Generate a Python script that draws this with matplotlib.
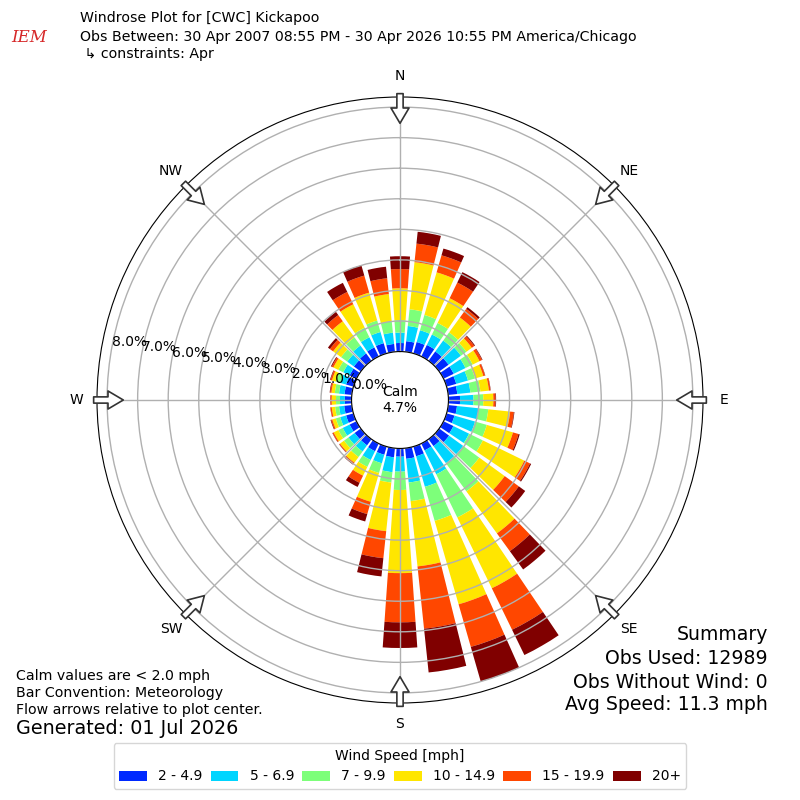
import numpy as np
import matplotlib
matplotlib.use('Agg')
import matplotlib.pyplot as plt

# ---------------- data ----------------
directions = list(range(0, 360, 10))
speed_labels = ['2 - 4.9', '5 - 6.9', '7 - 9.9', '10 - 14.9', '15 - 19.9', '20+']

spd_2_5 = [.28, .35, .39, .42, .38, .38, .37, .33, .30, .38,
           .29, .27, .36, .40, .28, .25, .33, .35, .27, .30,
           .28, .28, .25, .25, .25, .25, .25, .22, .24, .25,
           .25, .28, .30, .33, .35, .26]
spd_5_7 = [.34, .50, .40, .38, .44, .50, .43, .40, .43, .44,
           .71, .70, .57, .57, .69, .87, 1.04, .78, .49, .49,
           .29, .32, .25, .25, .25, .20, .17, .16, .18, .20,
           .23, .27, .32, .37, .38, .37]
spd_7_10 = [.41, .55, .52, .42, .33, .22, .26, .24, .33, .32,
            .32, .40, .50, .65, 1.14, 1.57, 1.16, .61, .60, .34,
            .33, .25, .22, .18, .16, .15, .13, .13, .14, .15,
            .18, .25, .33, .35, .39, .37]
spd_10_15 = [1.04, 1.55, 1.45, .90, .60, .22, .25, .28, .28, .33,
             .72, .89, 1.51, 1.03, 1.70, 2.58, 2.84, 2.15, 2.72, 1.60,
             .98, .32, .23, .16, .17, .12, .11, .14, .11, .13,
             .18, .32, .65, .85, .95, .90]
spd_15_20 = [.63, .61, .58, .57, .35, .10, .09, .06, .05, .07,
             .12, .19, .21, .57, .72, 1.51, 1.45, 2.05, 1.61, .89,
             .42, .26, .06, .03, .04, .04, .04, .04, .04, .05,
             .06, .13, .25, .45, .58, .52]
spd_20p = [.42, .39, .23, .38, .07, .03, .02, .01, .01, .02,
           .02, .04, .04, .26, .74, .92, 1.18, 1.44, .84, .60,
           .25, .15, .02, .01, .01, .02, .01, .01, .02, .02,
           .03, .08, .13, .33, .35, .38]
series = [spd_2_5, spd_5_7, spd_7_10, spd_10_15, spd_15_20, spd_20p]

calm_pct = 4.7
rticks = [0, 1, 2, 3, 4, 5, 6, 7, 8]
compass_angles = [0, 45, 90, 135, 180, 225, 270, 315]
compass_labels = ['N', 'NE', 'E', 'SE', 'S', 'SW', 'W', 'NW']

title_lines = ['Windrose Plot for [CWC] Kickapoo',
               'Obs Between: 30 Apr 2007 08:55 PM - 30 Apr 2026 10:55 PM America/Chicago',
               ' \u21b3 constraints: Apr']
notes = ['Calm values are < 2.0 mph', 'Bar Convention: Meteorology',
         'Flow arrows relative to plot center.']
generated = 'Generated: 01 Jul 2026'
summary = ['Summary', 'Obs Used: 12989', 'Obs Without Wind: 0', 'Avg Speed: 11.3 mph']

# ---------------- figure ----------------
fig = plt.figure(figsize=(8, 8), dpi=100)
ax = fig.add_axes([97 / 800, 97 / 800, 606 / 800, 606 / 800], projection='polar')
ax.set_theta_zero_location('N')
ax.set_theta_direction(-1)
ax.set_rorigin(-1.585)
ax.set_ylim(0, 8.33)

colors = plt.get_cmap('jet')(np.linspace(0, 1, 7))[1:]
theta = np.deg2rad(directions)
width = np.deg2rad(10) * 0.8
bottom = np.zeros(len(directions))
for vals, c, lab in zip(series, colors, speed_labels):
    vals = np.asarray(vals)
    ax.bar(theta, vals, width=width, bottom=bottom, color=c, label=lab,
           linewidth=0, zorder=1)
    bottom = bottom + vals

ax.set_rticks(rticks)
ax.set_yticklabels([])
ax.set_thetagrids(compass_angles, compass_labels, fontsize=10)
ax.tick_params(axis='x', pad=4.5)
ax.grid(True, color='#b0b0b0', linewidth=1)
for v in rticks:
    ax.text(np.deg2rad(280), v, f'{v:.1f}%', ha='left', va='bottom',
            fontsize=10, zorder=5)

ax.text(0.5, 0.5, f'Calm\n{calm_pct:.1f}%', transform=ax.transAxes,
        ha='center', va='center', fontsize=10)

# flow arrows at compass points
for a in compass_angles:
    ax.annotate('', xy=(np.deg2rad(a), 7.47), xytext=(np.deg2rad(a), 8.44),
                arrowprops=dict(facecolor='white', edgecolor='#333333', width=4.5,
                                headwidth=13, headlength=11, shrink=0, lw=1.2),
                annotation_clip=False, zorder=6)

# header
fig.text(80 / 800, 1 - 18 / 800, title_lines[0], va='center', fontsize=10.15)
fig.text(80 / 800, 1 - 37 / 800, title_lines[1], va='center', fontsize=10.15)
fig.text(80 / 800, 1 - 54 / 800, title_lines[2], va='center', fontsize=10.15)
fig.text(29 / 800, 1 - 37 / 800, 'IEM', va='center', ha='center', fontsize=12,
         color='#d62728', style='italic', family='DejaVu Serif')

# bottom-left notes
for i, t in enumerate(notes):
    fig.text(16 / 800, 1 - (676 + 17 * i) / 800, t, va='center', fontsize=10.15)
fig.text(16 / 800, 1 - 729 / 800, generated, va='center', fontsize=13.75)

# summary
sy = [635, 659, 682, 705]
for t, y in zip(summary, sy):
    fig.text(768 / 800, 1 - y / 800, t, va='center', ha='right', fontsize=13.6)

handles, labels = ax.get_legend_handles_labels()
fig.legend(handles, labels, ncol=6, loc='lower center',
           bbox_to_anchor=(0.5, 4 / 800), title='Wind Speed [mph]',
           fontsize=10, title_fontsize=10, columnspacing=0.6)

fig.savefig('out.png', dpi=100)
